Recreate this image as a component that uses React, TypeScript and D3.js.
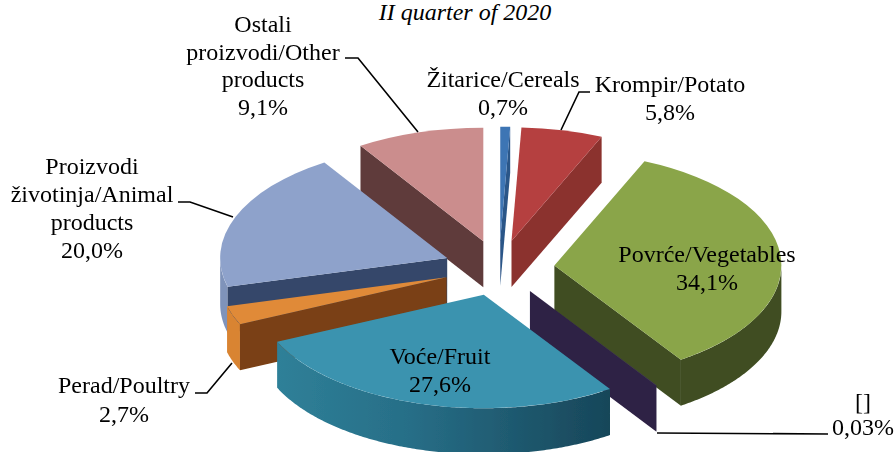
import * as d3 from "d3";

const width = 894;
const height = 452;

const names = ["Žitarice/Cereals", "Krompir/Potato", "Povrće/Vegetables", "[]", "Voće/Fruit", "Perad/Poultry", "Proizvodi životinja/Animal products", "Ostali proizvodi/Other products"];
const values = [0.7, 5.8, 34.1, 0.03, 27.6, 2.7, 20.0, 9.1];
const topColors = ["#3d74b4", "#b54141", "#8aa548", "#44306a", "#3a93af", "#e08a38", "#8ea2cb", "#cb8d8d"];
const wallColors = ["#2c5688", "#8b302e", "#3f4e22", "#2e2145", "#1b4f62", "#7a3f12", "#34476b", "#5e3a3a"];
const outerColors = ["#2c5688", "#a03a38", "#3f4e22", "#2e2145", "#1b4f62", "#d98433", "#7f93ba", "#5e3a3a"];

// back to front
const drawOrder = [7, 0, 1, 6, 5, 2, 3, 4];

// chart layout
const cx = 499;
const cy = 268;
const rx = 227;
const squash = 0.5;
const depth = 46;
const explode = 0.245;

const labelLines: string[][] = [
  ["Žitarice/Cereals", "0,7%"],
  ["Krompir/Potato", "5,8%"],
  ["Povrće/Vegetables", "34,1%"],
  ["[]", "0,03%"],
  ["Voće/Fruit", "27,6%"],
  ["Perad/Poultry", "2,7%"],
  ["Proizvodi", "životinja/Animal", "products", "20,0%"],
  ["Ostali", "proizvodi/Other", "products", "9,1%"],
];
const labelX = [503, 670, 707, 863, 440, 124, 92, 263];
const labelY = [87, 92, 262, 410, 364, 393, 174, 32];
const labelGap = [28, 27.5, 28, 25, 28, 29, 28, 27.5];

const leaders = [
  [[590, 92], [579, 92], [561, 130]],
  [[657, 433], [828, 434]],
  [[195, 393], [207, 393], [232, 363]],
  [[178, 202], [190, 202], [233, 217]],
  [[345, 58], [358, 58], [418, 132]],
];

const arcs = d3.pie<number>().sort(null)(values);
const topArc = d3.arc<d3.PieArcDatum<number>>().innerRadius(0).outerRadius(rx);
const leaderLine = d3.line();

const wallArea = d3
  .area<number>()
  .x((a) => rx * Math.sin(a))
  .y0((a) => -rx * squash * Math.cos(a))
  .y1((a) => -rx * squash * Math.cos(a) + depth);

function Slice({ i }: { i: number }) {
  const d = arcs[i];
  const mid = (d.startAngle + d.endAngle) / 2;
  const ox = cx + explode * rx * Math.sin(mid);
  const oy = cy - explode * rx * squash * Math.cos(mid);

  // outer rim, only the part facing the viewer
  const a0 = Math.max(d.startAngle, Math.PI / 2);
  const a1 = Math.min(d.endAngle, (3 * Math.PI) / 2);
  const rim = a1 > a0 ? wallArea(d3.range(a0, a1, 0.01).concat(a1)) : null;

  const cut = (a: number) => {
    const x = rx * Math.sin(a);
    const y = -rx * squash * Math.cos(a);
    return `M0,0L${x},${y}L${x},${y + depth}L0,${depth}Z`;
  };
  const startVisible = Math.cos(d.startAngle - Math.PI / 2) < 0;
  const endVisible = Math.cos(d.endAngle + Math.PI / 2) < 0;

  return (
    <g transform={`translate(${ox},${oy})`}>
      {rim && <path d={rim} fill={i === 4 ? "url(#fruitRim)" : outerColors[i]} />}
      {startVisible && <path d={cut(d.startAngle)} fill={wallColors[i]} />}
      {endVisible && <path d={cut(d.endAngle)} fill={wallColors[i]} />}
      <path transform={`scale(1,${squash})`} d={topArc(d) || ""} fill={topColors[i]} />
    </g>
  );
}

export default function App() {
  return (
    <svg width={width} height={height} style={{ position: "absolute", left: 0, top: 0, background: "#fff" }}>
      <defs>
        <linearGradient id="fruitRim" x1="0" x2="1" y1="0" y2="0">
          <stop offset="0" stopColor="#2f8098" />
          <stop offset="0.4" stopColor="#276e87" />
          <stop offset="1" stopColor="#174659" />
        </linearGradient>
        <filter id="soft" x="-5%" y="-5%" width="110%" height="110%">
          <feGaussianBlur stdDeviation="0.5" />
        </filter>
      </defs>

      <text x={465} y={20} textAnchor="middle" fontFamily="Liberation Serif" fontStyle="italic" fontSize={24}>
        II quarter of 2020
      </text>

      <g filter="url(#soft)">
        {drawOrder.map((i) => (
          <Slice key={names[i]} i={i} />
        ))}
      </g>

      {leaders.map((pts, i) => (
        <path key={i} d={leaderLine(pts as [number, number][]) || ""} fill="none" stroke="#000" strokeWidth={1.6} />
      ))}

      {labelLines.map((lines, i) => (
        <text key={i} textAnchor="middle" fontFamily="Liberation Serif" fontSize={24} fill="#000">
          {lines.map((t, j) => (
            <tspan key={j} x={labelX[i]} y={labelY[i] + j * labelGap[i]}>
              {t}
            </tspan>
          ))}
        </text>
      ))}
    </svg>
  );
}
